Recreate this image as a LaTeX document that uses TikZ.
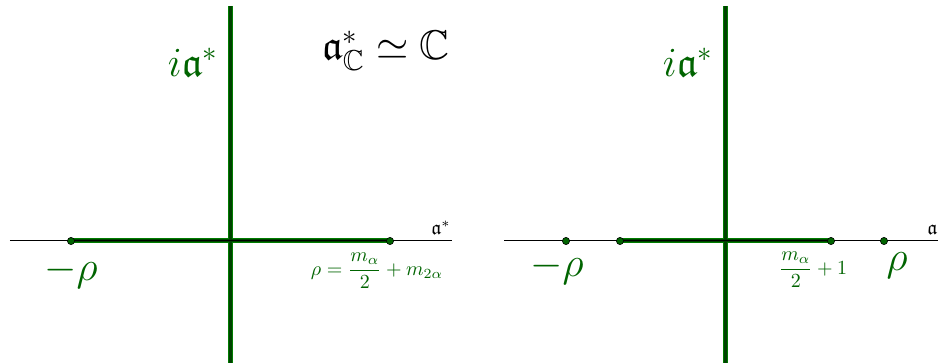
\documentclass[tikz,border=0pt]{standalone}
\usepackage{amsmath,amssymb}
\usepackage{xcolor}
\definecolor{geogreen}{RGB}{0,100,0}
\definecolor{geoouter}{RGB}{0,125,0}
\definecolor{geoinner}{RGB}{0,65,0}

\begin{document}
\begin{tikzpicture}[x=0.5pt, y=0.5pt,
  axisline/.style={black, line width=0.5pt},
  bandout/.style={geoouter, line width=2.5pt},
  bandin/.style={geoinner, line width=1.5pt},
  ptdot/.style={circle, draw=black, fill=geogreen, line width=0.3pt, inner sep=0pt, minimum size=3.6pt},
  biglab/.style={text=geogreen, font=\huge},
  smalllab/.style={text=geogreen}]
  \useasboundingbox (-231,-122) rectangle (707,241);
  \clip (-231,-122) rectangle (707,241);
  % left panel: the real case
  \coordinate (axW1) at (-221,0);
  \coordinate (axE1) at (221,0);
  \coordinate (axN1) at (0,235);
  \coordinate (axS1) at (0,-130);
  \coordinate (mrho1) at (-160,0);
  \coordinate (prho1) at (159,0);
  \draw[axisline] (axW1) -- (axE1);
  \draw[bandout] (mrho1) -- (prho1);
  \draw[bandout] (axN1) -- (axS1);
  \draw[bandin] (mrho1) -- (prho1);
  \draw[bandin] (axN1) -- (axS1);
  \draw[axisline] (mrho1) -- (prho1);
  \node[ptdot] (dotm1) at (mrho1) {};
  \node[ptdot] (dotp1) at (prho1) {};
  \node[biglab] (mrholab1) at (-160,-31) {$-\rho$};
  \node[smalllab] (rholab1) at (146,-30) {$\rho=\dfrac{m_\alpha}{2}+m_{2\alpha}$};
  \node (astar1) at (210,13) {$\mathfrak{a}^*$};
  \node[biglab] (ia1) at (-38,179) {$i\mathfrak{a}^*$};
  \node[font=\huge] (acplx) at (155,190) {$\mathfrak{a}^*_{\mathbb{C}}\simeq\mathbb{C}$};
  % right panel: the strip
  \begin{scope}[shift={(494,0)}]
    \coordinate (axW2) at (-221,0);
    \coordinate (axE2) at (221,0);
    \coordinate (axN2) at (0,235);
    \coordinate (axS2) at (0,-130);
    \coordinate (mrho2) at (-159,0);
    \coordinate (mstr2) at (-105,0);
    \coordinate (pstr2) at (106,0);
    \coordinate (prho2) at (159,0);
    \draw[axisline] (axW2) -- (axE2);
    \draw[bandout] (mstr2) -- (pstr2);
    \draw[bandout] (axN2) -- (axS2);
    \draw[bandin] (mstr2) -- (pstr2);
    \draw[bandin] (axN2) -- (axS2);
    \draw[axisline] (mstr2) -- (pstr2);
    \node[ptdot] (dotm2) at (mrho2) {};
    \node[ptdot] (dots2) at (mstr2) {};
    \node[ptdot] (dott2) at (pstr2) {};
    \node[ptdot] (dotp2) at (prho2) {};
    \node[biglab] (mrholab2) at (-168,-27) {$-\rho$};
    \node[smalllab] (striplab2) at (88,-29) {$\dfrac{m_\alpha}{2}+1$};
    \node[biglab] (rholab2) at (172,-25) {$\rho$};
    \node (astar2) at (212,13) {$\mathfrak{a}^*$};
    \node[biglab] (ia2) at (-37,179) {$i\mathfrak{a}^*$};
  \end{scope}
\end{tikzpicture}
\end{document}
